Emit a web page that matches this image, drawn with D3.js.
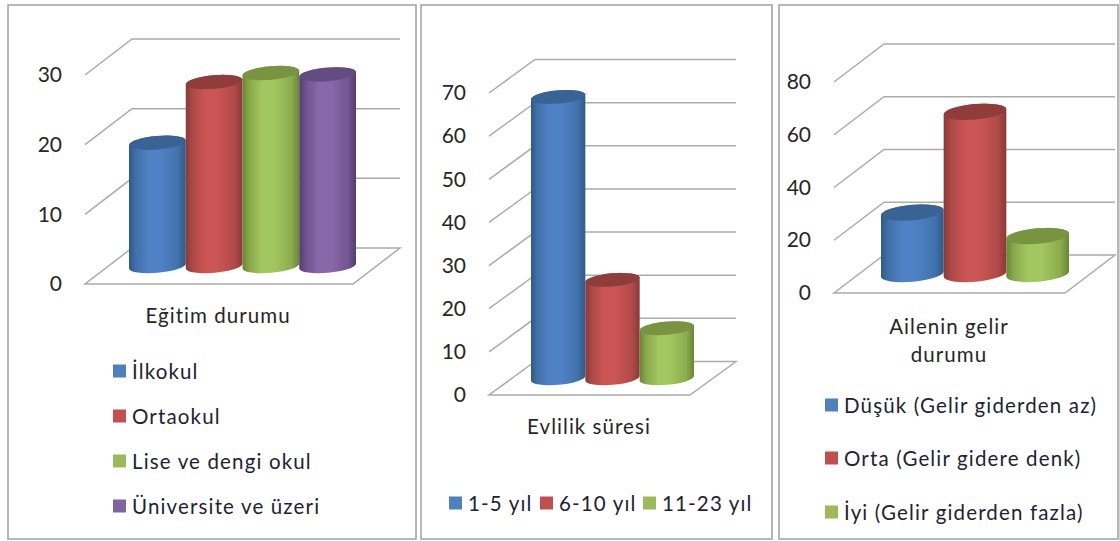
<!DOCTYPE html>
<html lang="tr">
<head>
<meta charset="utf-8">
<title>Eğitim durumu, evlilik süresi, ailenin gelir durumu</title>
<script src="https://cdn.jsdelivr.net/npm/d3@7/dist/d3.min.js"></script>
<style>
  html, body { margin: 0; padding: 0; background: #fff; }
  svg { display: block; font-family: Lato, "Open Sans", sans-serif; }
</style>
</head>
<body>
<svg id="chart" width="1119" height="541"></svg>
<script>
// Values (percent) and labels for each of the three charts
const educationLabels = ["İlkokul", "Ortaokul", "Lise ve dengi okul", "Üniversite ve üzeri"];
const educationValues = [17.7, 26.4, 27.7, 27.5];
const educationTicks = [0, 10, 20, 30];

const marriageLabels = ["1-5 yıl", "6-10 yıl", "11-23 yıl"];
const marriageValues = [65.2, 22.8, 11.6];
const marriageTicks = [0, 10, 20, 30, 40, 50, 60, 70];

const incomeLabels = ["Düşük (Gelir giderden az)", "Orta (Gelir gidere denk)", "İyi (Gelir giderden fazla)"];
const incomeValues = [23.3, 61.5, 14.4];
const incomeTicks = [0, 20, 40, 60, 80];

// Office-style shading: edge, lit centre, and the darker cap of each cylinder
const palette = [
  { edge: "#2f5987", mid: "#4f82c5", cap: "#396394", key: "#4f81bd" },
  { edge: "#883a38", mid: "#ca5553", cap: "#8f3c3a", key: "#c0504d" },
  { edge: "#6a8534", mid: "#a2c660", cap: "#789441", key: "#9bbb59" },
  { edge: "#523d70", mid: "#8967a9", cap: "#634d80", key: "#8064a2" }
];

const panels = [
  { id: "edu", frame: [8, 5, 408, 534], labels: educationLabels, values: educationValues, ticks: educationTicks,
    front: [85, 353], floor: [284, 248], depth: 47, top: 75, bars: [129, 356], ry: 6.8,
    title: ["Eğitim durumu"], titleX: 218, titleY: [315],
    legend: [[113, 371], [113, 416], [113, 461], [113, 506]] },
  { id: "mar", frame: [421, 5, 351, 534], labels: marriageLabels, values: marriageValues, ticks: marriageTicks,
    front: [489, 690], floor: [395, 361.5], depth: 46, top: 93, bars: [531, 694], ry: 6.6,
    title: ["Evlilik süresi"], titleX: 589, titleY: [426],
    legend: [[449, 503], [540, 503], [643, 503]] },
  { id: "inc", frame: [779, 5, 339, 534], labels: incomeLabels, values: incomeValues, ticks: incomeTicks,
    front: [834, 1065], floor: [293, 255], depth: 50, top: 82, bars: [881, 1069], ry: 7.7,
    title: ["Ailenin gelir", "durumu"], titleX: 949, titleY: [326, 354],
    legend: [[825, 405], [825, 458], [825, 512]] }
];

const svg = d3.select("#chart");
const defs = svg.append("defs");
const gridColor = "#ababab";
const textColor = "#262626";
const swatchSize = 13;
const capTilt = -5;

// Horizontal shading shared by all cylinders of one colour
palette.forEach((c, i) => {
  const g = defs.append("linearGradient").attr("id", `body${i}`);
  const shade = d3.interpolateRgb(c.edge, c.mid);
  [[0, c.edge], [0.12, shade(0.55)], [0.34, c.mid], [0.56, c.mid], [0.86, shade(0.6)], [1, c.edge]]
    .forEach(([o, col]) => g.append("stop").attr("offset", o).attr("stop-color", col));
});

panels.forEach(p => {
  const g = svg.append("g").attr("id", p.id);

  g.append("rect")
    .attr("x", p.frame[0]).attr("y", p.frame[1])
    .attr("width", p.frame[2]).attr("height", p.frame[3])
    .attr("fill", "#fff").attr("stroke", "#a6a6a6").attr("stroke-width", 1.6);

  const maxTick = d3.max(p.ticks);
  const y = d3.scaleLinear().domain([0, maxTick]).range([p.floor[0], p.top]);
  const rise = p.floor[0] - p.floor[1];

  // Side wall and back wall gridlines, one per tick above the floor
  g.append("g").selectAll("path")
    .data(p.ticks.filter(t => t > 0))
    .join("path")
    .attr("d", t => `M${p.front[0]},${y(t)}L${p.front[0] + p.depth},${y(t) - rise}L${p.front[1] + p.depth},${y(t) - rise}`)
    .attr("fill", "none").attr("stroke", gridColor).attr("stroke-width", 1.5);

  // Floor
  g.append("path")
    .attr("d", `M${p.front[0]},${p.floor[0]}L${p.front[1]},${p.floor[0]}L${p.front[1] + p.depth},${p.floor[1]}L${p.front[0] + p.depth},${p.floor[1]}Z`)
    .attr("fill", "none").attr("stroke", gridColor).attr("stroke-width", 1.5);

  // Value axis
  const axis = g.append("g")
    .attr("transform", `translate(${p.front[0] - 7},0)`)
    .call(d3.axisLeft(y).tickValues(p.ticks).tickSize(0).tickPadding(16).tickFormat(d3.format("d")));
  axis.select(".domain").remove();
  axis.selectAll("text")
    .attr("x", -16)
    .attr("font-size", 21).attr("fill", textColor).attr("font-family", "Lato, sans-serif");

  // Cylinders, standing on the floor's mid-line
  const x = d3.scaleBand().domain(d3.range(p.values.length)).range(p.bars).padding(0);
  const baseShift = rise / 2;
  const bars = g.append("g").selectAll("g")
    .data(p.values.map((v, i) => ({ v, i })))
    .join("g");

  const tiltRise = () => (x.bandwidth() / 2) * Math.tan(-capTilt * Math.PI / 180);

  bars.append("path")
    .attr("d", d => {
      const rx = x.bandwidth() / 2;
      const x0 = x(d.i), x1 = x0 + x.bandwidth();
      const tr = tiltRise();
      const yTop = y(d.v) - baseShift, yBase = y(0) - baseShift;
      return `M${x0},${yTop + tr}L${x0},${yBase + tr}` +
        `A${rx},${p.ry} ${capTilt} 0 0 ${x1},${yBase - tr}` +
        `L${x1},${yTop - tr}` +
        `A${rx},${p.ry} ${capTilt} 0 0 ${x0},${yTop + tr}Z`;
    })
    .attr("fill", d => `url(#body${d.i})`);

  bars.append("ellipse")
    .attr("rx", x.bandwidth() / 2).attr("ry", p.ry)
    .attr("transform", d => `translate(${x(d.i) + x.bandwidth() / 2},${y(d.v) - baseShift}) rotate(${capTilt})`)
    .attr("fill", d => palette[d.i].cap);

  // Category name below the floor
  g.append("text")
    .attr("text-anchor", "middle").attr("font-size", 20.5).attr("letter-spacing", 1.05).attr("fill", textColor)
    .selectAll("tspan").data(p.title).join("tspan")
    .attr("x", p.titleX).attr("y", (_, i) => p.titleY[i]).attr("dominant-baseline", "central")
    .text(d => d);

  // Legend
  const items = g.append("g").selectAll("g")
    .data(p.labels.map((label, i) => ({ label, i })))
    .join("g")
    .attr("transform", d => `translate(${p.legend[d.i][0]},${p.legend[d.i][1]})`);
  items.append("rect")
    .attr("y", -swatchSize / 2).attr("width", swatchSize).attr("height", swatchSize)
    .attr("fill", d => palette[d.i].key);
  items.append("text")
    .attr("x", swatchSize + 6).attr("dominant-baseline", "central")
    .attr("font-size", 20.5).attr("letter-spacing", 1.15).attr("fill", "#1c2433")
    .text(d => d.label);
});
</script>
</body>
</html>
